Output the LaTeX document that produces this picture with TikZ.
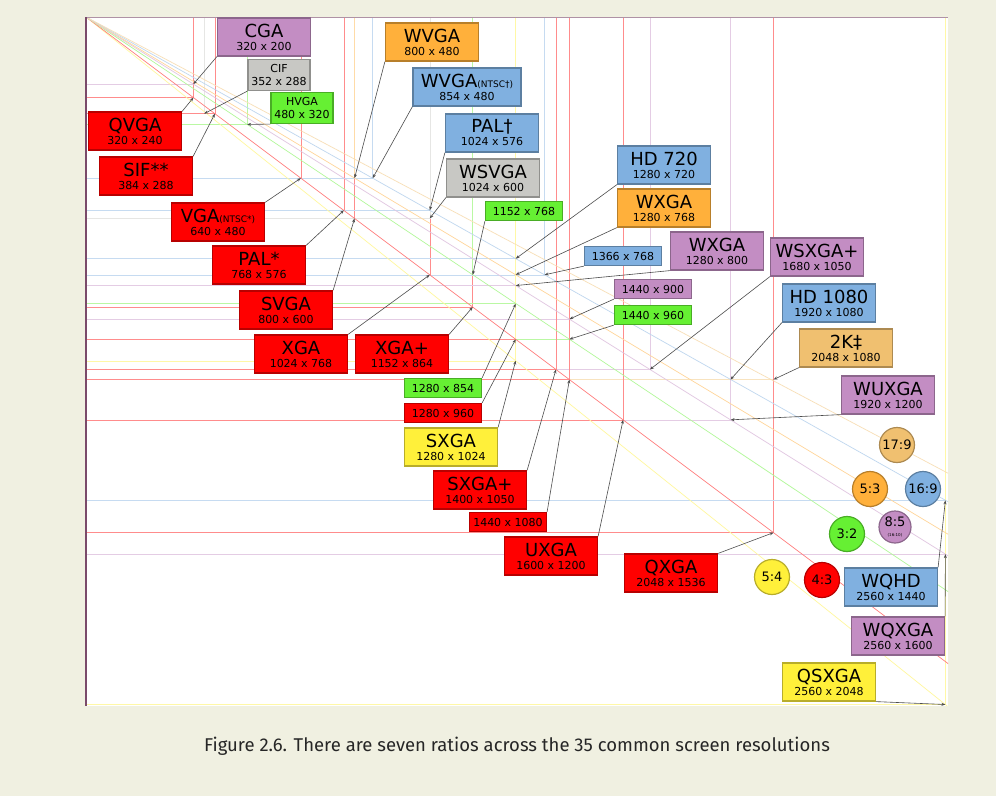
\documentclass[tikz,border=0pt]{standalone}
\usepackage{fontspec}
\setmainfont{DejaVu Sans}
\newfontfamily\capfont{Fira Sans}
\usetikzlibrary{arrows.meta}

\definecolor{paper}{HTML}{F0F0E1}
\definecolor{axiscol}{HTML}{7A4A6A}
\definecolor{resred}{HTML}{FF0000}
\definecolor{resviolet}{HTML}{C38DC3}
\definecolor{resgray}{HTML}{C8C8C4}
\definecolor{resgreen}{HTML}{66F033}
\definecolor{resorange}{HTML}{FFB03B}
\definecolor{resblue}{HTML}{80B0E0}
\definecolor{resyellow}{HTML}{FFF03A}
\definecolor{restan}{HTML}{F0C070}

\newcommand{\resnum}[1]{{\fontsize{11}{11}\selectfont #1}}
\newcommand{\ntsc}[1]{{\fontsize{9}{9}\selectfont(NTSC#1)}}

\begin{document}
\begin{tikzpicture}[x=1pt, y=-1pt,
    resline/.style={draw=#1!45, line width=0.5pt},
    ratioline/.style={draw=#1!50, line width=0.7pt},
    bigbox/.style={fill=#1, draw=#1!72!black, line width=1.2pt, minimum width=93pt,
        minimum height=38pt, inner sep=0pt, align=center, font=\fontsize{18}{13}\selectfont},
    midbox/.style={fill=#1, draw=#1!72!black, line width=1.2pt, minimum width=62pt,
        minimum height=31pt, inner sep=0pt, align=center, font=\fontsize{11}{12.5}\selectfont},
    smallbox/.style={fill=#1, draw=#1!72!black, line width=1.2pt, minimum width=77pt,
        minimum height=19pt, inner sep=0pt, font=\fontsize{11}{11}\selectfont},
    ratio/.style={circle, fill=#1, draw=#1!72!black, line width=1.2pt, minimum size=35pt,
        inner sep=0pt, align=center, font=\fontsize{13}{13}\selectfont},
    pointer/.style={-{Stealth[length=4pt, width=3pt]}, draw=black!70, line width=0.6pt}]

    \useasboundingbox (0,0) rectangle (996,796);
    \fill[paper] (0,0) rectangle (996,796);
    \fill[white] (86,17) rectangle (948,706);

    % plot area: one unit is one screen pixel
    \begin{scope}[shift={(86,17)}, x=0.3357pt, y=-0.3357pt]
        \clip (0,0) rectangle (2568,2052);
        \draw[resline=resviolet] (0,0) rectangle (320,200) coordinate (p-cga);
        \draw[resline=resgray] (0,0) rectangle (352,288) coordinate (p-cif);
        \draw[resline=resgreen] (0,0) rectangle (480,320) coordinate (p-hvga);
        \draw[resline=resred] (0,0) rectangle (320,240) coordinate (p-qvga);
        \draw[resline=resred] (0,0) rectangle (384,288) coordinate (p-sif);
        \draw[resline=resred] (0,0) rectangle (640,480) coordinate (p-vga);
        \draw[resline=resred] (0,0) rectangle (768,576) coordinate (p-pal);
        \draw[resline=resred] (0,0) rectangle (800,600) coordinate (p-svga);
        \draw[resline=resred] (0,0) rectangle (1024,768) coordinate (p-xga);
        \draw[resline=resred] (0,0) rectangle (1152,864) coordinate (p-xgaplus);
        \draw[resline=resorange] (0,0) rectangle (800,480) coordinate (p-wvga);
        \draw[resline=resblue] (0,0) rectangle (854,480) coordinate (p-wvgantsc);
        \draw[resline=resblue] (0,0) rectangle (1024,576) coordinate (p-palw);
        \draw[resline=resgray] (0,0) rectangle (1024,600) coordinate (p-wsvga);
        \draw[resline=resgreen] (0,0) rectangle (1152,768) coordinate (p-r1152);
        \draw[resline=resblue] (0,0) rectangle (1280,720) coordinate (p-hd720);
        \draw[resline=resorange] (0,0) rectangle (1280,768) coordinate (p-wxga);
        \draw[resline=resblue] (0,0) rectangle (1366,768) coordinate (p-r1366);
        \draw[resline=resviolet] (0,0) rectangle (1280,800) coordinate (p-wxgaw);
        \draw[resline=resviolet] (0,0) rectangle (1680,1050) coordinate (p-wsxga);
        \draw[resline=resviolet] (0,0) rectangle (1440,900) coordinate (p-r1440a);
        \draw[resline=resgreen] (0,0) rectangle (1440,960) coordinate (p-r1440b);
        \draw[resline=resblue] (0,0) rectangle (1920,1080) coordinate (p-hd1080);
        \draw[resline=restan] (0,0) rectangle (2048,1080) coordinate (p-twok);
        \draw[resline=resviolet] (0,0) rectangle (1920,1200) coordinate (p-wuxga);
        \draw[resline=resgreen] (0,0) rectangle (1280,854) coordinate (p-r1280a);
        \draw[resline=resred] (0,0) rectangle (1280,960) coordinate (p-r1280b);
        \draw[resline=resyellow] (0,0) rectangle (1280,1024) coordinate (p-sxga);
        \draw[resline=resred] (0,0) rectangle (1400,1050) coordinate (p-sxgaplus);
        \draw[resline=resred] (0,0) rectangle (1440,1080) coordinate (p-r1440c);
        \draw[resline=resred] (0,0) rectangle (1600,1200) coordinate (p-uxga);
        \draw[resline=resred] (0,0) rectangle (2048,1536) coordinate (p-qxga);
        \draw[resline=resblue] (0,0) rectangle (2560,1440) coordinate (p-wqhd);
        \draw[resline=resviolet] (0,0) rectangle (2560,1600) coordinate (p-wqxga);
        \draw[resline=resyellow] (0,0) rectangle (2560,2048) coordinate (p-qsxga);

        % ratio lines
        \draw[ratioline=resyellow] (0,0) -- (2600,2080);
        \draw[ratioline=resred] (0,0) -- (2600,1950);
        \draw[ratioline=resgreen] (0,0) -- (2600,1733);
        \draw[ratioline=resviolet] (0,0) -- (2600,1625);
        \draw[ratioline=resorange] (0,0) -- (2600,1560);
        \draw[ratioline=resblue] (0,0) -- (2600,1462);
        \draw[ratioline=restan] (0,0) -- (2600,1376);
    \end{scope}
    \draw[axiscol!60, line width=0.6pt] (86,17) -- (948,17);
    \draw[axiscol, line width=1.2pt] (86,17) -- (86,706);

    % boxes
    \node[bigbox=resviolet] (cga) at (264,37) {CGA\\\resnum{320 x 200}};
    \node[midbox=resgray] (cif) at (279,75) {CIF\\352 x 288};
    \node[midbox=resgreen] (hvga) at (302,108) {HVGA\\480 x 320};
    \node[bigbox=resred] (qvga) at (135,131) {QVGA\\\resnum{320 x 240}};
    \node[bigbox=resred] (sif) at (146,176) {SIF**\\\resnum{384 x 288}};
    \node[bigbox=resred] (vga) at (218,222) {VGA\ntsc{*}\\\resnum{640 x 480}};
    \node[bigbox=resred] (pal) at (259,265) {PAL*\\\resnum{768 x 576}};
    \node[bigbox=resred] (svga) at (286,310) {SVGA\\\resnum{800 x 600}};
    \node[bigbox=resred] (xga) at (301,354) {XGA\\\resnum{1024 x 768}};
    \node[bigbox=resred] (xgaplus) at (402,354) {XGA+\\\resnum{1152 x 864}};
    \node[bigbox=resorange] (wvga) at (432,42) {WVGA\\\resnum{800 x 480}};
    \node[bigbox=resblue, minimum width=108pt] (wvgantsc) at (467,87) {WVGA\ntsc{†}\\\resnum{854 x 480}};
    \node[bigbox=resblue] (palw) at (492,133) {PAL†\\\resnum{1024 x 576}};
    \node[bigbox=resgray] (wsvga) at (493,178) {WSVGA\\\resnum{1024 x 600}};
    \node[smallbox=resgreen] (r1152) at (524,211) {1152 x 768};
    \node[bigbox=resblue] (hd720) at (664,165) {HD 720\\\resnum{1280 x 720}};
    \node[bigbox=resorange] (wxga) at (664,208) {WXGA\\\resnum{1280 x 768}};
    \node[smallbox=resblue] (r1366) at (623,256) {1366 x 768};
    \node[bigbox=resviolet] (wxgaw) at (717,251) {WXGA\\\resnum{1280 x 800}};
    \node[bigbox=resviolet] (wsxga) at (817,257) {WSXGA+\\\resnum{1680 x 1050}};
    \node[smallbox=resviolet] (r1440a) at (653,289) {1440 x 900};
    \node[smallbox=resgreen] (r1440b) at (653,315) {1440 x 960};
    \node[bigbox=resblue] (hd1080) at (829,303) {HD 1080\\\resnum{1920 x 1080}};
    \node[bigbox=restan] (twok) at (846,348) {2K‡\\\resnum{2048 x 1080}};
    \node[bigbox=resviolet] (wuxga) at (888,395) {WUXGA\\\resnum{1920 x 1200}};
    \node[smallbox=resgreen] (r1280a) at (443,388) {1280 x 854};
    \node[smallbox=resred] (r1280b) at (443,413) {1280 x 960};
    \node[bigbox=resyellow] (sxga) at (451,447) {SXGA\\\resnum{1280 x 1024}};
    \node[bigbox=resred] (sxgaplus) at (480,490) {SXGA+\\\resnum{1400 x 1050}};
    \node[smallbox=resred] (r1440c) at (508,522) {1440 x 1080};
    \node[bigbox=resred] (uxga) at (551,556) {UXGA\\\resnum{1600 x 1200}};
    \node[bigbox=resred] (qxga) at (671,573) {QXGA\\\resnum{2048 x 1536}};
    \node[bigbox=resblue] (wqhd) at (891,587) {WQHD\\\resnum{2560 x 1440}};
    \node[bigbox=resviolet] (wqxga) at (898,636) {WQXGA\\\resnum{2560 x 1600}};
    \node[bigbox=resyellow] (qsxga) at (829,682) {QSXGA\\\resnum{2560 x 2048}};

    % ratios
    \node[ratio=restan] (r17-9) at (897,445) {17:9};
    \node[ratio=resorange] (r5-3) at (870,489) {5:3};
    \node[ratio=resblue] (r16-9) at (923,489) {16:9};
    \node[ratio=resgreen] (r3-2) at (847,534) {3:2};
    \node[ratio=resviolet, minimum size=32pt] (r8-5) at (895,527) {8:5\\[-3pt]{\fontsize{4}{4}\selectfont(16:10)}};
    \node[ratio=resyellow] (r5-4) at (772,577) {5:4};
    \node[ratio=resred] (r4-3) at (822,580) {4:3};

    % pointers
    \draw[pointer] (cga.south west) -- (p-cga);
    \draw[pointer] (cif.south west) -- (p-cif);
    \draw[pointer] (hvga.south west) -- (p-hvga);
    \draw[pointer] (qvga.north east) -- (p-qvga);
    \draw[pointer] (sif.north east) -- (p-sif);
    \draw[pointer] (vga.north east) -- (p-vga);
    \draw[pointer] (pal.north east) -- (p-pal);
    \draw[pointer] (svga.north east) -- (p-svga);
    \draw[pointer] (xga.north east) -- (p-xga);
    \draw[pointer] (xgaplus.north east) -- (p-xgaplus);
    \draw[pointer] (wvga.south west) -- (p-wvga);
    \draw[pointer] (wvgantsc.south west) -- (p-wvgantsc);
    \draw[pointer] (palw.south west) -- (p-palw);
    \draw[pointer] (wsvga.south west) -- (p-wsvga);
    \draw[pointer] (r1152.south west) -- (p-r1152);
    \draw[pointer] (hd720.south west) -- (p-hd720);
    \draw[pointer] (wxga.south west) -- (p-wxga);
    \draw[pointer] (r1366.south west) -- (p-r1366);
    \draw[pointer] (wxgaw.south west) -- (p-wxgaw);
    \draw[pointer] (wsxga.south west) -- (p-wsxga);
    \draw[pointer] (r1440a.south west) -- (p-r1440a);
    \draw[pointer] (r1440b.south west) -- (p-r1440b);
    \draw[pointer] (hd1080.south west) -- (p-hd1080);
    \draw[pointer] (twok.south west) -- (p-twok);
    \draw[pointer] (wuxga.south west) -- (p-wuxga);
    \draw[pointer] (r1280a.north east) -- (p-r1280a);
    \draw[pointer] (r1280b.north east) -- (p-r1280b);
    \draw[pointer] (sxga.north east) -- (p-sxga);
    \draw[pointer] (sxgaplus.north east) -- (p-sxgaplus);
    \draw[pointer] (r1440c.north east) -- (p-r1440c);
    \draw[pointer] (uxga.north east) -- (p-uxga);
    \draw[pointer] (qxga.north east) -- (p-qxga);
    \draw[pointer] (wqhd.north east) -- (p-wqhd);
    \draw[pointer] (wqxga.north east) -- (p-wqxga);
    \draw[pointer] (qsxga.south east) -- (p-qsxga);

    \node[font=\capfont\fontsize{18.5}{18.5}\selectfont, text=black!85] (caption) at (517,746)
        {Figure 2.6. There are seven ratios across the 35 common screen resolutions};
\end{tikzpicture}
\end{document}
